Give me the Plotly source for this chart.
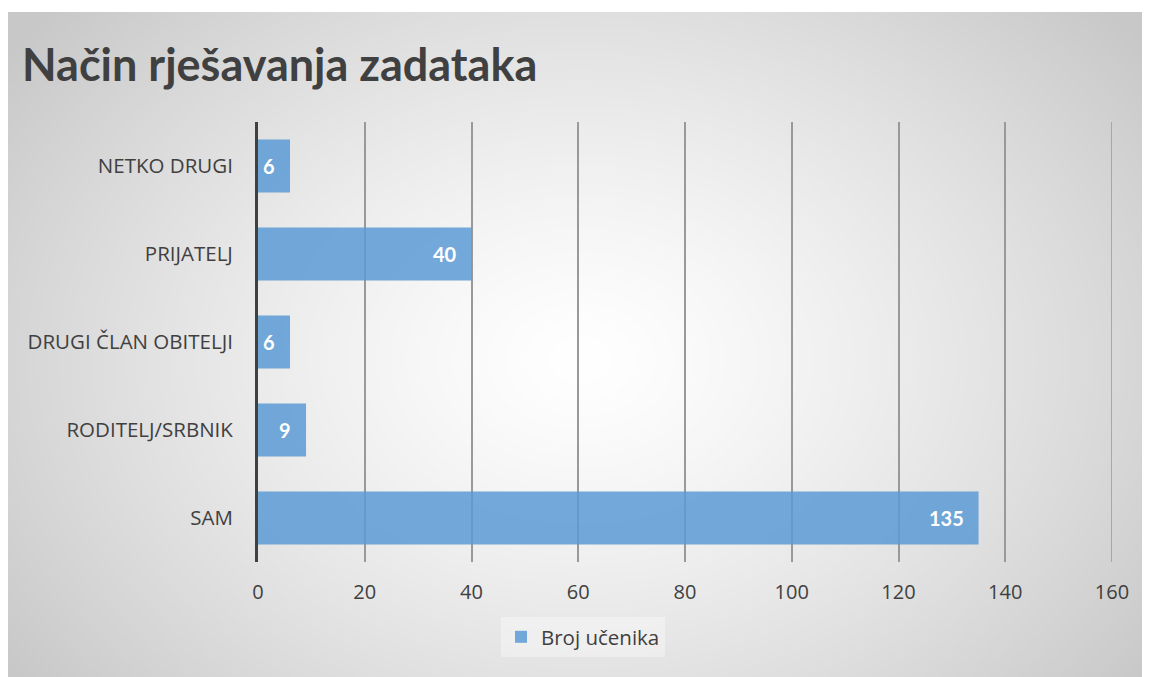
import base64, struct, zlib
import numpy as np
import plotly.graph_objects as go

categories = ["SAM", "RODITELJ/SRBNIK", "DRUGI ČLAN OBITELJI", "PRIJATELJ", "NETKO DRUGI"]
values = [135, 9, 6, 40, 6]
series_name = "Broj učenika"
title_text = "Način rješavanja zadataka"
x_ticks = [0, 20, 40, 60, 80, 100, 120, 140, 160]

# page body has an 8px margin; figure sized to fit the window
W, H = 1142, 669
L, T = 250, 114
R = W - 1104
B = H - 554
PW, PH = W - L - R, H - T - B


def gradient_png(w, h):
    yy, xx = np.mgrid[0:h, 0:w].astype(float)
    cx, cy = 0.50 * w, 0.52 * h
    r = np.sqrt(((xx - cx) / (0.62 * w)) ** 2 + ((yy - cy) / (0.80 * h)) ** 2)
    r = np.clip(r, 0, 1)
    v = 255 - (255 - 200) * r ** 1.3
    img = v.astype(np.uint8)
    raw = b"".join(b"\x00" + img[i].tobytes() for i in range(h))
    def chunk(tag, data):
        c = struct.pack(">I", len(data)) + tag + data
        return c + struct.pack(">I", zlib.crc32(tag + data) & 0xFFFFFFFF)
    png = b"\x89PNG\r\n\x1a\n" + chunk(b"IHDR", struct.pack(">IIBBBBB", w, h, 8, 0, 0, 0, 0))
    png += chunk(b"IDAT", zlib.compress(raw, 9)) + chunk(b"IEND", b"")
    return "data:image/png;base64," + base64.b64encode(png).decode()


bg = gradient_png(572, 333)

fig = go.Figure()
fig.add_trace(go.Bar(
    y=categories, x=values, orientation="h", name=series_name,
    marker=dict(color="rgba(91,155,213,0.85)", line=dict(width=0)),
    width=0.6, showlegend=True,
))

for c, v in zip(categories, values):
    fig.add_annotation(x=v, y=c, text=f"<b>{v}</b>", showarrow=False,
                       xanchor="right", xshift=-13,
                       font=dict(family="Lato", size=20, color="white"))

# last gridline at the axis end (plotly drops gridlines at the range edge)
fig.add_shape(type="line", xref="x", yref="paper",
              x0=x_ticks[-1], x1=x_ticks[-1], y0=0, y1=1,
              line=dict(color="#999999", width=1.5), layer="below")

# white strip above the chart background
fig.add_shape(type="rect", xref="paper", yref="paper",
              x0=-L / PW, x1=(W - L) / PW, y0=(H - B - 4) / PH, y1=(H - B) / PH,
              fillcolor="white", line=dict(width=0), layer="below")

fig.add_layout_image(dict(
    source=bg, xref="paper", yref="paper",
    x=-L / PW, y=(H - B - 4) / PH,
    sizex=(W + 2) / PW, sizey=(H - 2) / PH,
    xanchor="left", yanchor="top", sizing="stretch", layer="below",
))

fig.update_layout(
    width=W, height=H,
    margin=dict(l=L, r=R, t=T, b=B, pad=0),
    paper_bgcolor="#cbcbcb", plot_bgcolor="rgba(0,0,0,0)",
    title=dict(text=f"<b>{title_text}</b>", x=14 / W, xanchor="left",
               y=1 - 57 / H, yanchor="middle",
               font=dict(family="Lato", size=45, color="#404040")),
    xaxis=dict(range=[0, x_ticks[-1]], tickvals=x_ticks, showgrid=True,
               gridcolor="#999999", gridwidth=1.5, zeroline=False,
               showline=False, ticks="", ticklabelstandoff=16,
               tickfont=dict(family="Open Sans", size=20, color="#404040")),
    yaxis=dict(categoryorder="array", categoryarray=categories,
               range=[-0.5, 4.5], showgrid=False, zeroline=False,
               showline=True, linecolor="#404040", linewidth=3, ticks="",
               ticklabelstandoff=18,
               tickfont=dict(family="Open Sans", size=20.5, color="#404040")),
    legend=dict(orientation="h", x=(575 - L) / PW,
                xanchor="center", y=-(637 - 8 - (H - B)) / PH, yanchor="middle",
                bgcolor="rgba(255,255,255,0.35)",
                font=dict(family="Open Sans", size=20.5, color="#404040"),
                itemwidth=30),
    bargap=0.4,
)

fig.write_html("out.html")
